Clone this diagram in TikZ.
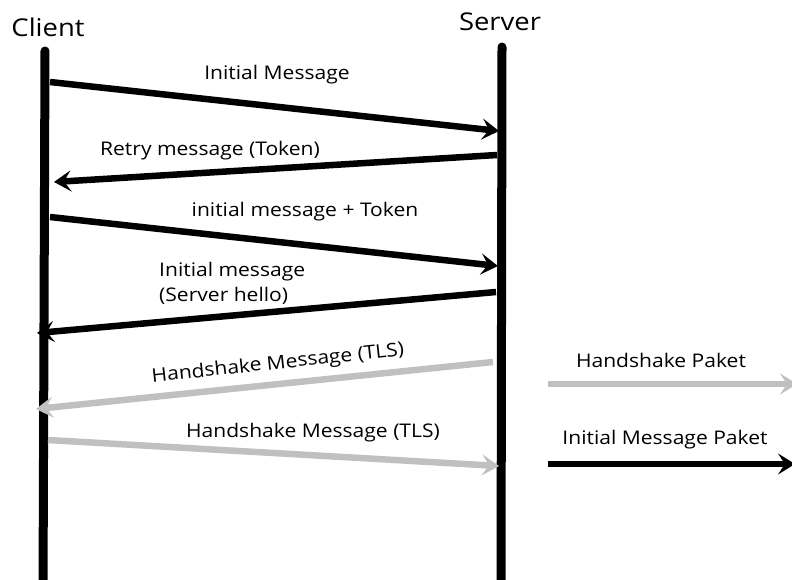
\documentclass[tikz,border=0pt]{standalone}
\usepackage{fontspec}
\setmainfont{Open Sans}[FakeStretch=1.12]
\usetikzlibrary{arrows.meta}
\definecolor{tlsgray}{RGB}{192,192,192}
\tikzset{
  lifeline/.style={line width=9pt, line cap=round},
  msg/.style={line width=6.5pt, -{Stealth[length=17pt,width=21pt,inset=7pt]}},
  blackmsg/.style={msg, black},
  graymsg/.style={msg, tlsgray},
  lbl/.style={font=\fontsize{18.8}{25}\selectfont, inner sep=1pt},
  title/.style={font=\fontsize{24.5}{29}\selectfont, inner sep=1pt}
}
\begin{document}
\begin{tikzpicture}[x=1pt,y=-1pt]
\useasboundingbox (0,0) rectangle (792,580);

% participants
\node[title] (client) at (48,27) {Client};
\node[title] (server) at (500,22) {Server};

\coordinate (ctop) at (45,51);
\coordinate (cbot) at (43,595);
\coordinate (stop) at (502,47);
\coordinate (sbot) at (501,595);
\draw[lifeline] (ctop) -- (cbot);
\draw[lifeline] (stop) -- (sbot);

% message end points
\coordinate (m1a) at (50,82);   \coordinate (m1b) at (499,131);
\coordinate (m2a) at (497,155); \coordinate (m2b) at (54,182);
\coordinate (m3a) at (50,217);  \coordinate (m3b) at (498,266);
\coordinate (m4a) at (496,292); \coordinate (m4b) at (37,333);
\coordinate (m5a) at (493,362); \coordinate (m5b) at (36,409);
\coordinate (m6a) at (48,440);  \coordinate (m6b) at (499,466);

\draw[blackmsg] (m1a) -- (m1b);
\draw[blackmsg] (m2a) -- (m2b);
\draw[blackmsg] (m3a) -- (m3b);
\draw[blackmsg] (m4a) -- (m4b);
\draw[graymsg] (m5a) -- (m5b);
\draw[graymsg] (m6a) -- (m6b);

% message labels
\node[lbl] (l1) at (277,75) {Initial Message};
\node[lbl] (l2) at (210,151) {Retry message (Token)};
\node[lbl] (l3) at (305,212) {initial message + Token};
\node[lbl, align=left, anchor=west] (l4) at (158,283) {Initial message\\(Server hello)};
\node[lbl, rotate=6.2] (l5) at (278,364) {Handshake Message (TLS)};
\node[lbl] (l6) at (313,433) {Handshake Message (TLS)};

% legend
\coordinate (g1a) at (548,384); \coordinate (g1b) at (797,384);
\coordinate (g2a) at (548,464); \coordinate (g2b) at (795,464);
\draw[graymsg] (g1a) -- (g1b);
\draw[blackmsg] (g2a) -- (g2b);
\node[lbl] (lg1) at (661,360) {Handshake Paket};
\node[lbl] (lg2) at (665,440) {Initial Message Paket};
\end{tikzpicture}
\end{document}
